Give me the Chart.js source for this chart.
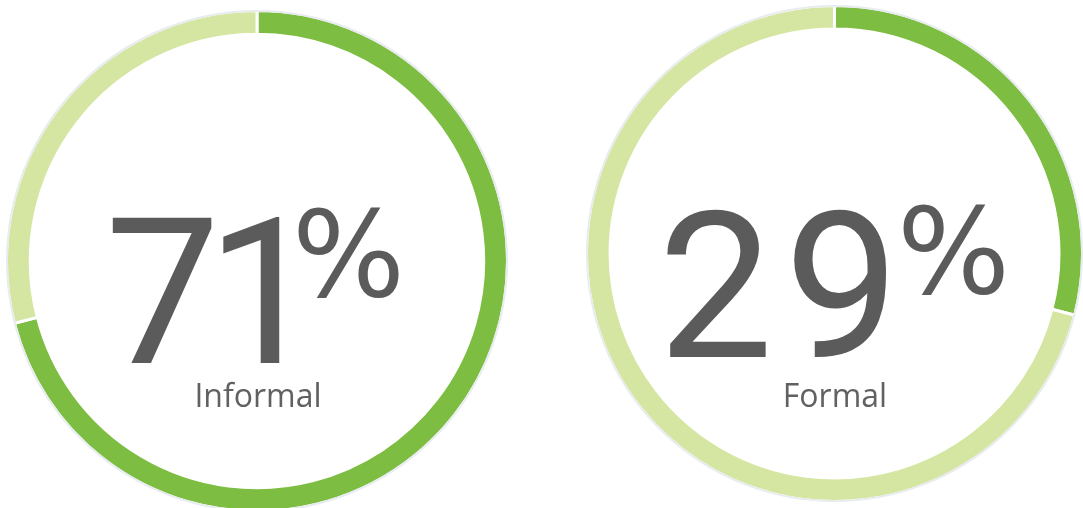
<!DOCTYPE html>
<html>
<head>
<meta charset="utf-8">
<script src="https://cdn.jsdelivr.net/npm/chart.js@4.4.1/dist/chart.umd.min.js"></script>
<style>
  html, body { margin: 0; padding: 0; background: #fff; overflow: hidden; }
  body { width: 1083px; height: 508px; position: relative; }
  canvas { position: absolute; }
  .num, .pct, .lbl { position: absolute; white-space: nowrap; color: #5b5b5b; line-height: 1; }
  .num { font-family: Roboto, "Liberation Sans", sans-serif; font-size: 205px; }
  .pct { font-family: "DejaVu Sans", sans-serif; font-size: 119px; }
  .lbl { font-family: "Open Sans", sans-serif; font-size: 32px; text-align: center; color: #616161; }
</style>
</head>
<body>
<canvas id="informalChart" width="504" height="504" style="left:5px; top:9px;"></canvas>
<canvas id="formalChart" width="499" height="499" style="left:585px; top:4px;"></canvas>

<div class="num" style="left:105px; top:191px; letter-spacing:-14px;">71</div>
<div class="pct" style="left:292px; top:196px;">%</div>
<div class="lbl" style="left:0px; top:379px; width:516px;">Informal</div>

<div class="num" style="left:658px; top:185px; letter-spacing:11px;">29</div>
<div class="pct" style="left:897px; top:193px;">%</div>
<div class="lbl" style="left:577px; top:379px; width:516px;">Formal</div>

<script>
  // データ
  const labels = ["Informal", "Formal"];
  const informalValues = [71, 29];
  const formalValues = [29, 71];

  const DARK = "#7cbd42";
  const LIGHT = "#d4e6a1";

  // 外周の薄いグレー線
  const outerRing = {
    id: "outerRing",
    afterDatasetsDraw(chart) {
      const arc = chart.getDatasetMeta(0).data[0];
      if (!arc) return;
      const ctx = chart.ctx;
      ctx.save();
      ctx.beginPath();
      ctx.arc(arc.x, arc.y, arc.outerRadius - 0.5, 0, Math.PI * 2);
      ctx.strokeStyle = "#e8ecef";
      ctx.lineWidth = 2;
      ctx.stroke();
      ctx.restore();
    }
  };

  function makeRing(id, values, colors) {
    return new Chart(document.getElementById(id), {
      type: "doughnut",
      data: {
        labels: labels,
        datasets: [{
          data: values,
          backgroundColor: colors,
          borderColor: "#ffffff",
          borderWidth: 3
        }]
      },
      options: {
        responsive: false,
        animation: false,
        cutout: "90.5%",
        layout: { padding: 0 },
        plugins: {
          legend: { display: false },
          tooltip: { enabled: false }
        }
      },
      plugins: [outerRing]
    });
  }

  makeRing("informalChart", informalValues, [DARK, LIGHT]);
  makeRing("formalChart", formalValues, [DARK, LIGHT]);
</script>
</body>
</html>
